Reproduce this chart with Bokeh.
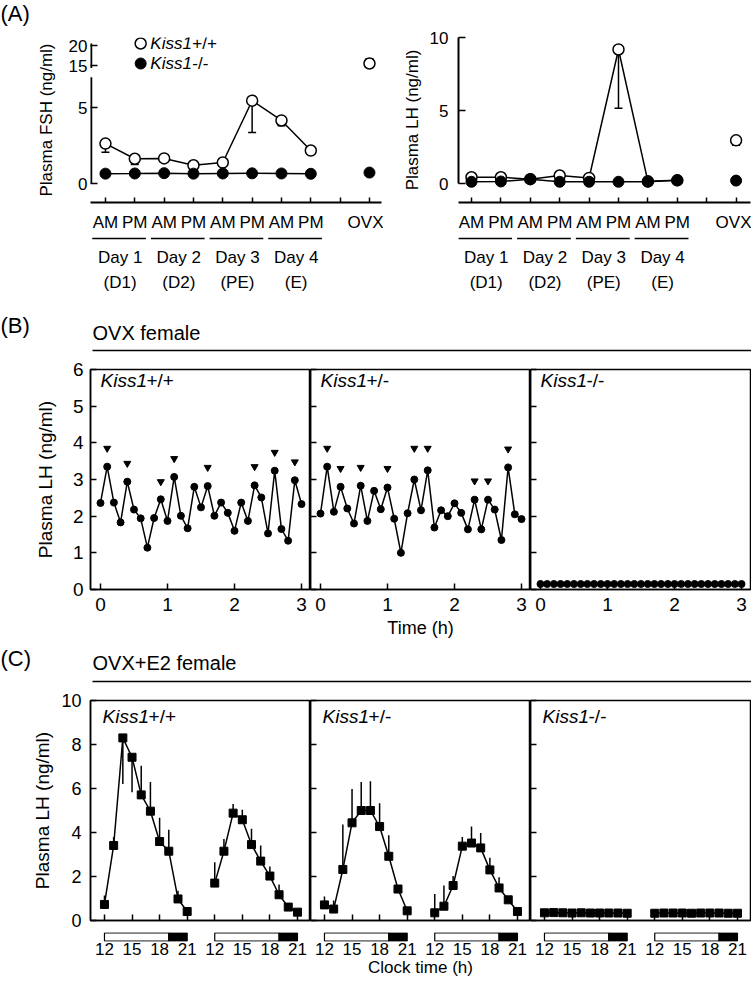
from bokeh.plotting import figure
from bokeh.models import Range1d, FixedTicker, LinearAxis
from bokeh.layouts import column, row
from bokeh.embed import file_html
from bokeh.resources import INLINE
from bokeh.core.properties import value

FONT = "Liberation Sans"

# ---------------- data: panel A ----------------
a_pos = [1, 2, 3, 4, 5, 6, 7, 8]
a_ovx_pos = 10
a_ticks = [1, 2, 3, 4, 5, 6, 7, 8, 9, 10]
a_tick_labels = ["AM", "PM", "AM", "PM", "AM", "PM", "AM", "PM", "", "OVX"]
a_day_labels = ["Day 1", "Day 2", "Day 3", "Day 4"]
a_phase_labels = ["(D1)", "(D2)", "(PE)", "(E)"]

fsh_wt = [2.63, 1.63, 1.65, 1.20, 1.38, 5.45, 4.15, 2.17]
fsh_wt_err = [0.57, 0.38, 0.05, 0.05, 0.18, 2.09, 0.35, 0.05]
fsh_ko = [0.65, 0.66, 0.68, 0.65, 0.66, 0.67, 0.66, 0.64]
fsh_ovx_wt = 15.5
fsh_ovx_wt_err = 1.2
fsh_ovx_ko = 0.72
fsh_ticks_low = [0, 5]
fsh_ticks_up = [15, 20]

lh_a_wt = [0.43, 0.43, 0.30, 0.55, 0.38, 9.18, 0.15, 0.22]
lh_a_wt_err = [0.05, 0.05, 0.05, 0.08, 0.05, 4.03, 0.03, 0.03]
lh_a_ko = [0.12, 0.14, 0.30, 0.12, 0.12, 0.12, 0.12, 0.22]
lh_ovx_wt = 2.96
lh_ovx_wt_err = 0.34
lh_ovx_ko = 0.20
lh_a_ticks = [0, 5, 10]

# ---------------- data: panel B ----------------
b_time = [0.0, 0.1, 0.2, 0.3, 0.4, 0.5, 0.6, 0.7, 0.8, 0.9, 1.0, 1.1, 1.2, 1.3, 1.4, 1.5,
          1.6, 1.7, 1.8, 1.9, 2.0, 2.1, 2.2, 2.3, 2.4, 2.5, 2.6, 2.7, 2.8, 2.9, 3.0]
b_wt = [2.36, 3.35, 2.37, 1.83, 2.94, 2.18, 1.94, 1.14, 1.95, 2.46, 1.87, 3.07, 2.01, 1.67, 2.80, 2.24,
        2.82, 2.01, 2.37, 2.09, 1.60, 2.37, 1.87, 2.84, 2.51, 1.53, 3.24, 1.65, 1.33, 2.98, 2.33]
b_wt_pulse_t = [0.1, 0.4, 0.9, 1.1, 1.6, 2.3, 2.6, 2.9]
b_wt_pulse_y = [3.85, 3.44, 2.94, 3.57, 3.33, 3.35, 3.74, 3.48]
b_het = [2.07, 3.35, 2.12, 2.80, 2.21, 1.80, 2.83, 1.87, 2.69, 2.19, 2.78, 1.93, 1.00, 2.08, 3.00, 2.16,
         3.25, 1.69, 2.16, 2.00, 2.35, 2.09, 1.64, 2.45, 1.64, 2.45, 2.18, 1.35, 3.33, 2.05, 1.92]
b_het_pulse_t = [0.1, 0.3, 0.6, 1.0, 1.4, 1.6, 2.3, 2.5, 2.8]
b_het_pulse_y = [3.85, 3.30, 3.33, 3.30, 3.85, 3.85, 2.96, 2.96, 3.83]
b_ko = [0.15, 0.15, 0.15, 0.15, 0.15, 0.15, 0.15, 0.15, 0.15, 0.15, 0.15, 0.15, 0.15, 0.15, 0.15, 0.15,
        0.15, 0.15, 0.15, 0.15, 0.15, 0.15, 0.15, 0.15, 0.15, 0.15, 0.15, 0.15, 0.15, 0.15, 0.15]
b_xticks = [0, 1, 2, 3]
b_yticks = [0, 1, 2, 3, 4, 5, 6]

# ---------------- data: panel C ----------------
c_hours = [12, 13, 14, 15, 16, 17, 18, 19, 20, 21]
c_day2_offset = 12
c_clock_ticks = [12, 15, 18, 21]
c_lights_on_start = 12
c_lights_off = 19
c_clock_end = 21
c_yticks = [0, 2, 4, 6, 8, 10]

c_wt_d1 = [0.73, 3.41, 8.30, 7.42, 5.71, 4.97, 3.59, 3.15, 0.98, 0.41]
c_wt_d1_errend = [1.14, 3.79, 6.21, 5.83, 7.03, 6.29, 4.67, 4.12, 1.35, 0.41]
c_wt_d2 = [1.70, 3.15, 4.88, 4.58, 3.45, 2.70, 2.02, 1.17, 0.61, 0.38]
c_wt_d2_errend = [2.65, 3.71, 5.30, 5.03, 4.17, 3.41, 2.45, 1.64, 0.61, 0.38]
c_het_d1 = [0.71, 0.52, 2.32, 4.44, 5.00, 5.00, 4.27, 2.92, 1.43, 0.44]
c_het_d1_errend = [1.09, 0.91, 4.36, 5.98, 6.29, 6.33, 5.33, 3.87, 1.43, 0.44]
c_het_d2 = [0.35, 0.65, 1.59, 3.38, 3.52, 3.30, 2.30, 1.48, 0.94, 0.41]
c_het_d2_errend = [1.21, 1.59, 2.02, 3.79, 4.27, 3.98, 2.85, 1.97, 0.94, 0.41]
c_ko_d1 = [0.35, 0.36, 0.35, 0.34, 0.35, 0.34, 0.34, 0.34, 0.34, 0.33]
c_ko_d1_errend = [0.35, 0.36, 0.35, 0.34, 0.35, 0.34, 0.34, 0.34, 0.34, 0.33]
c_ko_d2 = [0.33, 0.34, 0.34, 0.34, 0.33, 0.34, 0.34, 0.34, 0.33, 0.33]
c_ko_d2_errend = [0.33, 0.34, 0.34, 0.34, 0.33, 0.34, 0.34, 0.34, 0.33, 0.33]

# ---------------- helpers ----------------
LW = 1.5
COMMON = dict(output_backend="svg", toolbar_location=None)
PAGE_W = 751


def style(ax, size, standoff, tick_in=6, label_size=None, label_standoff=5, line_width=1.5):
    ax.major_tick_in = tick_in
    ax.major_tick_out = 0
    ax.minor_tick_line_color = None
    ax.major_tick_line_width = 1.5
    ax.major_tick_line_color = "black"
    ax.axis_line_width = line_width
    ax.axis_line_color = "black"
    ax.major_label_text_font = FONT
    ax.major_label_text_font_size = size
    ax.major_label_text_color = "black"
    ax.major_label_standoff = standoff
    ax.axis_label_text_font = FONT
    ax.axis_label_text_font_size = label_size or size
    ax.axis_label_text_font_style = "normal"
    ax.axis_label_text_color = "black"
    ax.axis_label_standoff = label_standoff


def hide_labels(ax, ticks):
    ax.major_label_overrides = {t: "" for t in ticks}
    ax.major_label_text_font_size = "0px"
    ax.major_label_standoff = 0


def kiss_label(p, x, y, suffix, size, offset, **kw):
    p.text(x=[x], y=[y], text=["Kiss1"], text_font=value(FONT), text_font_size=value(size),
           text_font_style="italic", text_baseline="middle", text_align="left",
           text_color="black", **kw)
    p.text(x=[x], y=[y], text=[suffix], x_offset=offset, text_font=value(FONT),
           text_font_size=value(size), text_font_style="normal", text_baseline="middle",
           text_align="left", text_color="black", **kw)


def header(h, texts, rules):
    p = figure(width=PAGE_W, height=h, x_range=Range1d(0, PAGE_W), y_range=Range1d(h, 0),
               x_axis_type=None, y_axis_type=None, min_border=0, outline_line_color=None, **COMMON)
    for x, y, t, size in texts:
        p.text(x=[x], y=[y], text=[t], text_font=value(FONT), text_font_size=value(size),
               text_baseline="middle", text_align="left", text_color="black")
    for x0, x1, y in rules:
        p.segment(x0=[x0], y0=[y], x1=[x1], y1=[y], line_color="black", line_width=1.5)
    return p


def draw_errors_down(p, xs, ys, errs, **kw):
    lo = [m - e for m, e in zip(ys, errs)]
    p.segment(x0=xs, y0=ys, x1=xs, y1=lo, line_color="black", line_width=LW, **kw)
    p.scatter(xs, lo, marker="dash", size=8, line_color="black", line_width=LW, **kw)


# ---------------- panel A ----------------
XR_A = Range1d(0.49, 10.41)
YR_A_LOW = Range1d(-1.25, 9.61)
YR_A_UP = Range1d(-19.25, 22.0)


def to_low(v):
    lo, up = YR_A_LOW, YR_A_UP
    return lo.start + (v - up.start) * (lo.end - lo.start) / (up.end - up.start)


pA = figure(width=383, height=210, x_range=XR_A, y_range=YR_A_LOW, min_border_left=90,
            min_border_right=2, min_border_top=11, min_border_bottom=34,
            outline_line_color=None, **COMMON)
pA.extra_y_ranges = {"upper": YR_A_UP}
pA.grid.visible = False
ya = pA.yaxis[0]
style(ya, "17px", 3, tick_in=7, label_standoff=10)
ya.ticker = FixedTicker(ticks=fsh_ticks_low + [to_low(v) for v in fsh_ticks_up])
ovr = {t: str(t) for t in fsh_ticks_low}
ovr.update({to_low(v): str(v) for v in fsh_ticks_up})
ya.major_label_overrides = ovr
ya.axis_line_color = None
ya.axis_label = "Plasma FSH (ng/ml)"
xa = pA.xaxis[0]
style(xa, "17px", 10, tick_in=5, line_width=2)
xa.ticker = FixedTicker(ticks=a_ticks)
xa.major_label_overrides = dict(zip(a_ticks, a_tick_labels))
# broken y-axis line (lower and upper pieces)
pA.segment(x0=[XR_A.start], y0=[0], x1=[XR_A.start], y1=[7.0], line_color="black", line_width=3.5)
pA.segment(x0=[XR_A.start], y0=[14.4], x1=[XR_A.start], y1=[20.5], line_color="black",
           line_width=3.5, y_range_name="upper")

pA.line(a_pos, fsh_wt, line_color="black", line_width=LW)
draw_errors_down(pA, a_pos, fsh_wt, fsh_wt_err)
pA.scatter(a_pos, fsh_wt, marker="circle", size=11, fill_color="white", line_color="black", line_width=LW)
pA.line(a_pos, fsh_ko, line_color="black", line_width=LW)
pA.scatter(a_pos, fsh_ko, marker="circle", size=11, fill_color="black", line_color="black")
pA.segment(x0=[a_ovx_pos], y0=[fsh_ovx_wt], x1=[a_ovx_pos], y1=[fsh_ovx_wt + fsh_ovx_wt_err],
           line_color="black", line_width=LW, y_range_name="upper")
pA.scatter([a_ovx_pos], [fsh_ovx_wt + fsh_ovx_wt_err], marker="dash", size=8, line_color="black",
           line_width=LW, y_range_name="upper")
pA.scatter([a_ovx_pos], [fsh_ovx_wt], marker="circle", size=11, fill_color="white", line_color="black",
           line_width=LW, y_range_name="upper")
pA.scatter([a_ovx_pos], [fsh_ovx_ko], marker="circle", size=11, fill_color="black", line_color="black")
# legend
pA.scatter([2.2], [20.5], marker="circle", size=11, fill_color="white", line_color="black",
           line_width=LW, y_range_name="upper")
pA.scatter([2.2], [15.5], marker="circle", size=11, fill_color="black", line_color="black",
           y_range_name="upper")
kiss_label(pA, 2.53, 20.5, "+/+", "17px", 42, y_range_name="upper")
kiss_label(pA, 2.53, 15.5, "-/-", "17px", 42, y_range_name="upper")

XR_A2 = Range1d(0.558, 10.49)
pA2 = figure(width=368, height=210, x_range=XR_A2, y_range=Range1d(-1.30, 10.0), min_border_left=75,
             min_border_right=1, min_border_top=11, min_border_bottom=34,
             outline_line_color=None, **COMMON)
pA2.grid.visible = False
ya2 = pA2.yaxis[0]
style(ya2, "17px", 10, tick_in=7, label_standoff=5, line_width=2)
ya2.ticker = FixedTicker(ticks=lh_a_ticks)
ya2.bounds = (0, 10)
ya2.axis_label = "Plasma LH (ng/ml)"
xa2 = pA2.xaxis[0]
style(xa2, "17px", 10, tick_in=5, line_width=2)
xa2.ticker = FixedTicker(ticks=a_ticks)
xa2.major_label_overrides = dict(zip(a_ticks, a_tick_labels))
pA2.line(a_pos, lh_a_wt, line_color="black", line_width=LW)
draw_errors_down(pA2, a_pos, lh_a_wt, lh_a_wt_err)
pA2.scatter(a_pos, lh_a_wt, marker="circle", size=11, fill_color="white", line_color="black", line_width=LW)
pA2.line(a_pos, lh_a_ko, line_color="black", line_width=LW)
pA2.scatter(a_pos, lh_a_ko, marker="circle", size=11, fill_color="black", line_color="black")
draw_errors_down(pA2, [a_ovx_pos], [lh_ovx_wt], [lh_ovx_wt_err])
pA2.scatter([a_ovx_pos], [lh_ovx_wt], marker="circle", size=11, fill_color="white", line_color="black",
            line_width=LW)
pA2.scatter([a_ovx_pos], [lh_ovx_ko], marker="circle", size=11, fill_color="black", line_color="black")


def day_fig(xr, width, left, right):
    p = figure(width=width, height=58, x_range=xr, y_range=Range1d(0, 1), min_border_left=left,
               min_border_right=right, min_border_top=0, min_border_bottom=54, y_axis_location=None,
               outline_line_color=None, **COMMON)
    p.grid.visible = False
    centers = [(a + b) / 2 for a, b in zip(a_pos[0::2], a_pos[1::2])]
    ax1 = p.xaxis[0]
    style(ax1, "17px", 7)
    ax1.ticker = FixedTicker(ticks=centers)
    ax1.major_label_overrides = dict(zip(centers, a_day_labels))
    ax1.axis_line_color = None
    ax1.major_tick_line_color = None
    ax2 = LinearAxis(ticker=FixedTicker(ticks=centers))
    style(ax2, "17px", 3)
    ax2.major_label_overrides = dict(zip(centers, a_phase_labels))
    ax2.axis_line_color = None
    ax2.major_tick_line_color = None
    p.add_layout(ax2, "below")
    am = a_pos[0::2]
    pm = a_pos[1::2]
    p.segment(x0=[v - 0.45 for v in am], y0=[0.5] * len(am), x1=[v + 0.38 for v in pm],
              y1=[0.5] * len(pm), line_color="black", line_width=1.5)
    return p


pA_day = day_fig(XR_A, 383, 90, 2)
pA2_day = day_fig(XR_A2, 368, 75, 1)

# ---------------- panel B ----------------
XR_B = Range1d(-0.149, 3.134)


def b_panel(width, left, right, ylabels, xlabel, ys, pt, py, suffix):
    p = figure(width=width, height=287, x_range=XR_B, y_range=Range1d(0, 6), min_border_left=left,
               min_border_right=right, min_border_top=11, min_border_bottom=56,
               outline_line_color="black", outline_line_width=1.5, **COMMON)
    p.grid.visible = False
    ay = p.yaxis[0]
    style(ay, "19px", 7, tick_in=6, label_standoff=14)
    ay.ticker = FixedTicker(ticks=b_yticks)
    if ylabels:
        ay.axis_label = "Plasma LH (ng/ml)"
    else:
        hide_labels(ay, b_yticks)
    ax = p.xaxis[0]
    style(ax, "19px", 8, tick_in=6, label_size="18px", label_standoff=4)
    ax.ticker = FixedTicker(ticks=b_xticks)
    if xlabel:
        ax.axis_label = xlabel
    p.line(b_time, ys, line_color="black", line_width=LW)
    p.scatter(b_time, ys, marker="circle", size=7, fill_color="black", line_color="black")
    if pt:
        p.scatter(pt, py, marker="inverted_triangle", size=7, fill_color="black", line_color="black")
    kiss_label(p, 0.0, 5.7, suffix, "19px", 46)
    return p


pB1 = b_panel(310, 90, 0, True, None, b_wt, b_wt_pulse_t, b_wt_pulse_y, "+/+")
pB2 = b_panel(220, 0, 0, False, "Time (h)", b_het, b_het_pulse_t, b_het_pulse_y, "+/-")
pB3 = b_panel(221, 0, 1, False, None, b_ko, None, None, "-/-")

# ---------------- panel C ----------------
XR_C = Range1d(10.48, 34.42)
c_all_ticks = c_clock_ticks + [t + c_day2_offset for t in c_clock_ticks]


def c_panel(width, left, right, ylabels, d1, e1, d2, e2, suffix):
    p = figure(width=width, height=241, x_range=XR_C, y_range=Range1d(0, 10), min_border_left=left,
               min_border_right=right, min_border_top=11, min_border_bottom=10,
               outline_line_color="black", outline_line_width=1.5, **COMMON)
    p.grid.visible = False
    ay = p.yaxis[0]
    style(ay, "18px", 9, tick_in=6, label_standoff=5, label_size="19px")
    ay.ticker = FixedTicker(ticks=c_yticks)
    if ylabels:
        ay.axis_label = "Plasma LH (ng/ml)"
    else:
        hide_labels(ay, c_yticks)
    ax = p.xaxis[0]
    style(ax, "18px", 0, tick_in=6)
    ax.ticker = FixedTicker(ticks=c_all_ticks)
    hide_labels(ax, c_all_ticks)
    for off, ys, ee in ((0, d1, e1), (c_day2_offset, d2, e2)):
        xs = [h + off for h in c_hours]
        p.segment(x0=xs, y0=ys, x1=xs, y1=ee, line_color="black", line_width=LW)
        p.line(xs, ys, line_color="black", line_width=LW)
        p.scatter(xs, ys, marker="square", size=8, fill_color="black", line_color="black")
    kiss_label(p, 11.79, 9.27, suffix, "19px", 46)
    return p


pC1 = c_panel(310, 90, 0, True, c_wt_d1, c_wt_d1_errend, c_wt_d2, c_wt_d2_errend, "+/+")
pC2 = c_panel(220, 0, 0, False, c_het_d1, c_het_d1_errend, c_het_d2, c_het_d2_errend, "+/-")
pC3 = c_panel(221, 0, 1, False, c_ko_d1, c_ko_d1_errend, c_ko_d2, c_ko_d2_errend, "-/-")


def bar_fig(width, left, right, xlabel):
    p = figure(width=width, height=50, x_range=XR_C, y_range=Range1d(0, 1), min_border_left=left,
               min_border_right=right, min_border_top=2, min_border_bottom=39, y_axis_location=None,
               outline_line_color=None, **COMMON)
    p.grid.visible = False
    ax = p.xaxis[0]
    style(ax, "17px", 1, tick_in=0, label_size="17px", label_standoff=0)
    ax.ticker = FixedTicker(ticks=c_all_ticks)
    ax.major_label_overrides = dict(zip(c_all_ticks, [str(t) for t in c_clock_ticks] * 2))
    ax.axis_line_color = None
    ax.major_tick_line_color = None
    if xlabel:
        ax.axis_label = xlabel
    offs = [0, c_day2_offset]
    p.quad(left=[c_lights_on_start + o for o in offs], right=[c_lights_off + o for o in offs],
           bottom=0.05, top=0.95, fill_color="white", line_color="black", line_width=1.2)
    p.quad(left=[c_lights_off + o for o in offs], right=[c_clock_end + o for o in offs],
           bottom=0.05, top=0.95, fill_color="black", line_color="black", line_width=1.2)
    return p


pCb1 = bar_fig(310, 90, 0, None)
pCb2 = bar_fig(220, 0, 0, "Clock time (h)")
pCb3 = bar_fig(221, 0, 1, None)

# ---------------- headers ----------------
hA = header(26, [(0, 13, "(A)", "22px")], [])
hB = header(64, [(0, 31, "(B)", "22px"), (92, 38, "OVX female", "20px")], [(92, PAGE_W, 56)])
hC = header(44, [(0, 13, "(C)", "22px"), (92, 17, "OVX+E2 female", "20px")], [(92, PAGE_W, 36)])

layout = column(
    hA,
    row(column(pA, pA_day), column(pA2, pA2_day)),
    hB,
    row(pB1, pB2, pB3),
    hC,
    row(pC1, pC2, pC3),
    row(pCb1, pCb2, pCb3),
)

open("out.html", "w").write(file_html(layout, INLINE))
